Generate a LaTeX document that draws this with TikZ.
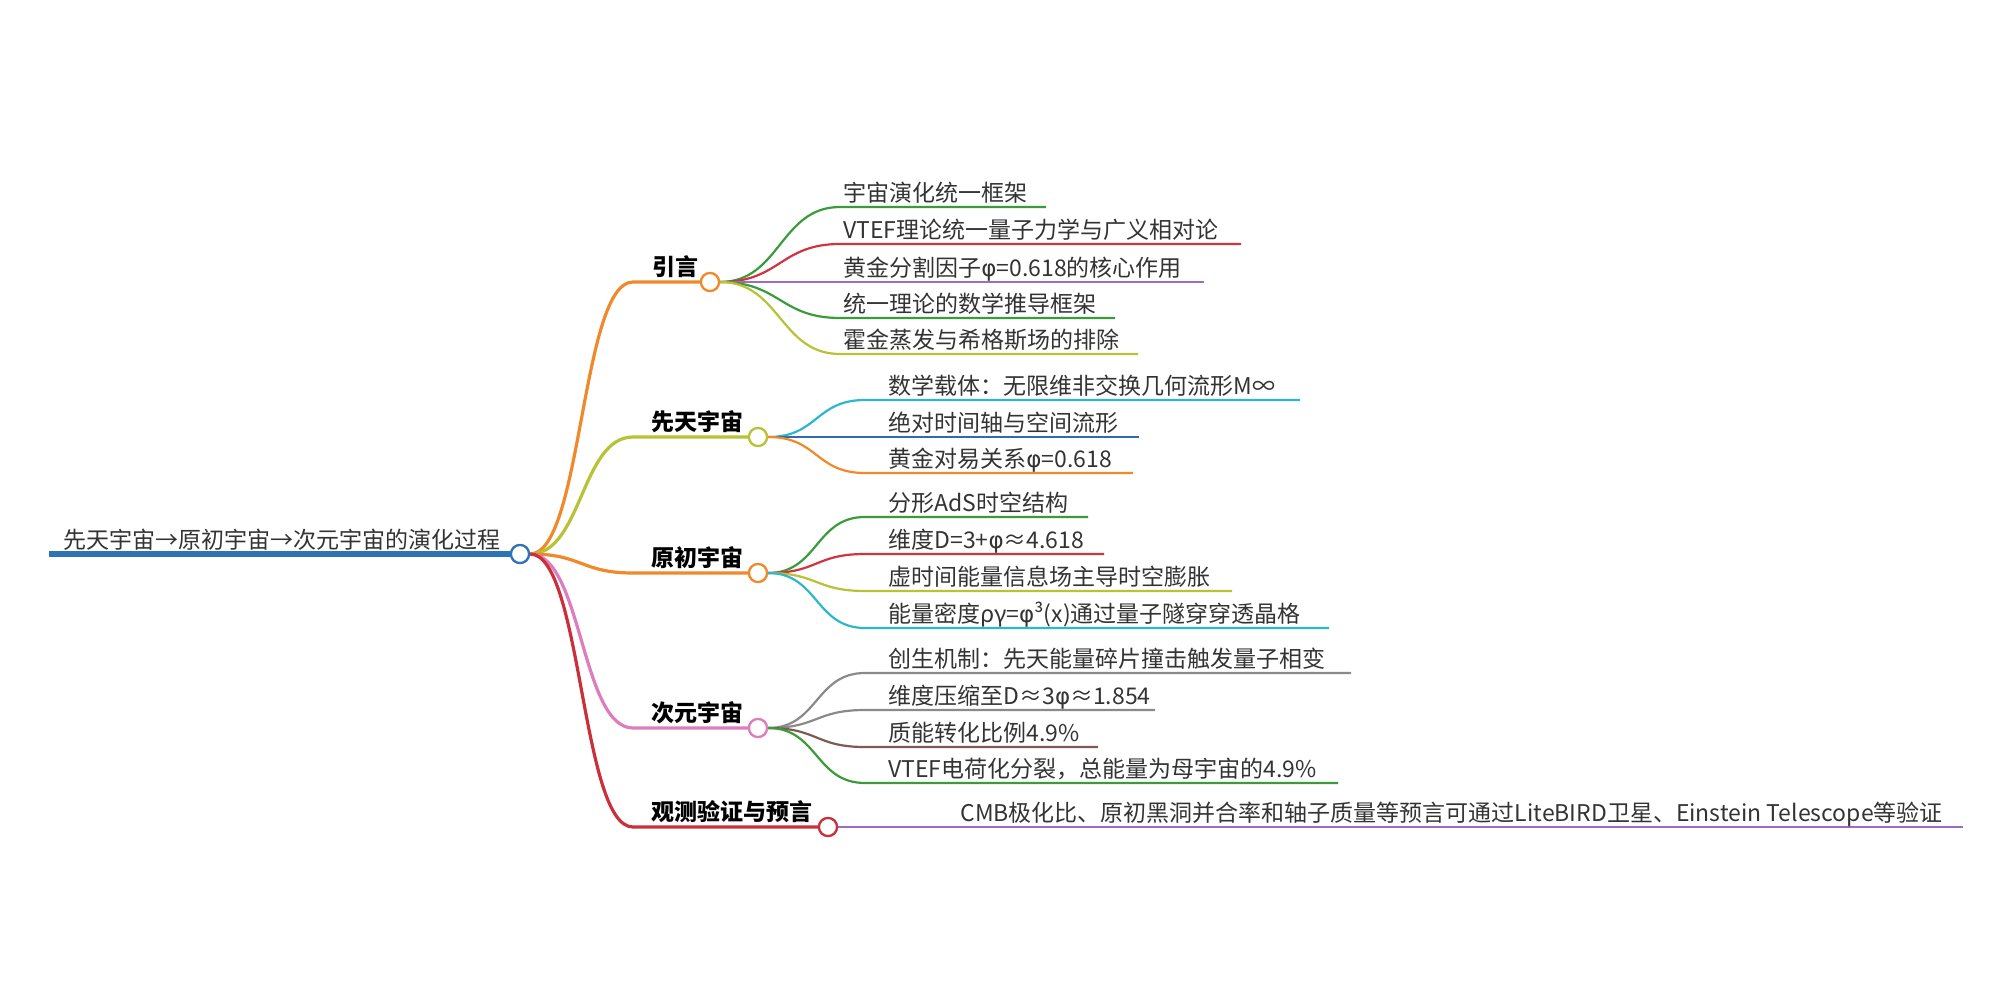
\documentclass[tikz,border=0pt]{standalone}
\usepackage{fontspec}
\setmainfont{Noto Sans CJK SC}
\newfontfamily\symfont{DejaVu Sans}
\newcommand\myphi{{\symfont φ}}
\definecolor{cblue}{HTML}{2E74B5}
\definecolor{corange}{HTML}{F0892A}
\definecolor{cyg}{HTML}{B7C234}
\definecolor{cpink}{HTML}{DE7DBE}
\definecolor{cred}{HTML}{C9303A}
\definecolor{cgreen}{HTML}{3A9B3A}
\definecolor{cleafred}{HTML}{D13440}
\definecolor{cpurple}{HTML}{9D6CC2}
\definecolor{ccyan}{HTML}{2DB7C9}
\definecolor{cdblue}{HTML}{2F6CAF}
\definecolor{cgray}{HTML}{8A8A8A}
\definecolor{cbrown}{HTML}{7D5B52}
\definecolor{ctext}{HTML}{333333}
\tikzset{
  hub/.style={circle, draw, fill=white, line width=1.1pt, minimum size=9pt, inner sep=0pt},
  branch/.style={line width=1.6pt},
  leafline/.style={line width=1.1pt},
  leaftext/.style={anchor=base west, inner sep=0pt, font=\fontsize{11.5pt}{12pt}\selectfont, text=ctext},
  btext/.style={anchor=base west, inner sep=0pt, font=\fontsize{11.5pt}{12pt}\selectfont\bfseries, text=black},
  roottext/.style={anchor=base west, inner sep=0pt, font=\fontsize{11.5pt}{12pt}\selectfont, text=ctext},
}
\begin{document}
\begin{tikzpicture}[x=0.5pt,y=-0.5pt]
\useasboundingbox (0,0) rectangle (2012,1006);
% root
\coordinate (r0) at (49,554);
\node[roottext] (rt) at (63,548) {先天宇宙→原初宇宙→次元宇宙的演化过程};
% branch coordinates
\coordinate (b1) at (633,282);
\coordinate (b2) at (633,437);
\coordinate (b3) at (633,573);
\coordinate (b4) at (633,728);
\coordinate (b5) at (633,827);
\node[hub, draw=cblue] (c0) at (520,554) {};
\node[hub, draw=corange] (c1) at (710,282) {};
\node[hub, draw=cyg] (c2) at (758,437) {};
\node[hub, draw=corange] (c3) at (758,573) {};
\node[hub, draw=cpink] (c4) at (758,728) {};
\node[hub, draw=cred] (c5) at (828,827) {};
% branch curves
\draw[line width=3pt, cblue] (r0) -- (c0.west);
\draw[branch, corange] (c0.east) .. controls +(52,0) and +(-52,0) .. (b1) -- (c1.west);
\draw[branch, cyg] (c0.east) .. controls +(52,0) and +(-52,0) .. (b2) -- (c2.west);
\draw[branch, corange] (c0.east) .. controls +(52,0) and +(-52,0) .. (b3) -- (c3.west);
\draw[branch, cpink] (c0.east) .. controls +(52,0) and +(-52,0) .. (b4) -- (c4.west);
\draw[branch, cred] (c0.east) .. controls +(52,0) and +(-52,0) .. (b5) -- (c5.west);
% branch labels
\node[btext] (l1) at (652,275) {引言};
\node[btext] (l2) at (651,430) {先天宇宙};
\node[btext] (l3) at (651,566) {原初宇宙};
\node[btext] (l4) at (651,721) {次元宇宙};
\node[btext] (l5) at (651,820) {观测验证与预言};
% leaves of 引言
\coordinate (a1) at (840,207); \coordinate (a1e) at (1046,207);
\coordinate (a2) at (840,244); \coordinate (a2e) at (1241,244);
\coordinate (a3) at (840,282); \coordinate (a3e) at (1204,282);
\coordinate (a4) at (840,318); \coordinate (a4e) at (1115,318);
\coordinate (a5) at (840,354); \coordinate (a5e) at (1138,354);
\draw[leafline, cgreen] (c1.east) .. controls +(60,0) and +(-60,0) .. (a1) -- (a1e);
\draw[leafline, cleafred] (c1.east) .. controls +(60,0) and +(-60,0) .. (a2) -- (a2e);
\draw[leafline, cpurple] (c1.east) -- (a3) -- (a3e);
\draw[leafline, cgreen] (c1.east) .. controls +(60,0) and +(-60,0) .. (a4) -- (a4e);
\draw[leafline, cyg] (c1.east) .. controls +(60,0) and +(-60,0) .. (a5) -- (a5e);
\node[leaftext] (t11) at (843,201) {宇宙演化统一框架};
\node[leaftext] (t12) at (843,238) {VTEF理论统一量子力学与广义相对论};
\node[leaftext] (t13) at (843,276) {黄金分割因子\myphi=0.618的核心作用};
\node[leaftext] (t14) at (843,312) {统一理论的数学推导框架};
\node[leaftext] (t15) at (843,348) {霍金蒸发与希格斯场的排除};
% leaves of 先天宇宙
\coordinate (s1) at (865,400); \coordinate (s1e) at (1300,400);
\coordinate (s2) at (865,437); \coordinate (s2e) at (1139,437);
\coordinate (s3) at (865,473); \coordinate (s3e) at (1133,473);
\draw[leafline, ccyan] (c2.east) .. controls +(50,0) and +(-50,0) .. (s1) -- (s1e);
\draw[leafline, cdblue] (c2.east) -- (s2) -- (s2e);
\draw[leafline, corange] (c2.east) .. controls +(50,0) and +(-50,0) .. (s3) -- (s3e);
\node[leaftext] (t21) at (888,394) {数学载体：无限维非交换几何流形M∞};
\node[leaftext] (t22) at (888,431) {绝对时间轴与空间流形};
\node[leaftext] (t23) at (888,467) {黄金对易关系\myphi=0.618};
% leaves of 原初宇宙
\coordinate (p1) at (865,517); \coordinate (p1e) at (1088,517);
\coordinate (p2) at (865,554); \coordinate (p2e) at (1104,554);
\coordinate (p3) at (865,591); \coordinate (p3e) at (1232,591);
\coordinate (p4) at (865,628); \coordinate (p4e) at (1329,628);
\draw[leafline, cgreen] (c3.east) .. controls +(50,0) and +(-50,0) .. (p1) -- (p1e);
\draw[leafline, cleafred] (c3.east) .. controls +(50,0) and +(-50,0) .. (p2) -- (p2e);
\draw[leafline, cyg] (c3.east) .. controls +(50,0) and +(-50,0) .. (p3) -- (p3e);
\draw[leafline, ccyan] (c3.east) .. controls +(50,0) and +(-50,0) .. (p4) -- (p4e);
\node[leaftext] (t31) at (888,511) {分形AdS时空结构};
\node[leaftext] (t32) at (888,548) {维度D=3+\myphi≈4.618};
\node[leaftext] (t33) at (888,585) {虚时间能量信息场主导时空膨胀};
\node[leaftext] (t34) at (888,622) {能量密度ργ=\myphi³(x)通过量子隧穿穿透晶格};
% leaves of 次元宇宙
\coordinate (d1) at (865,673); \coordinate (d1e) at (1351,673);
\coordinate (d2) at (865,710); \coordinate (d2e) at (1155,710);
\coordinate (d3) at (865,747); \coordinate (d3e) at (1098,747);
\coordinate (d4) at (865,783); \coordinate (d4e) at (1338,783);
\draw[leafline, cgray] (c4.east) .. controls +(50,0) and +(-50,0) .. (d1) -- (d1e);
\draw[leafline, cgray] (c4.east) .. controls +(50,0) and +(-50,0) .. (d2) -- (d2e);
\draw[leafline, cbrown] (c4.east) .. controls +(50,0) and +(-50,0) .. (d3) -- (d3e);
\draw[leafline, cgreen] (c4.east) .. controls +(50,0) and +(-50,0) .. (d4) -- (d4e);
\node[leaftext] (t41) at (888,667) {创生机制：先天能量碎片撞击触发量子相变};
\node[leaftext] (t42) at (888,704) {维度压缩至D≈3\myphi≈1.854};
\node[leaftext] (t43) at (888,741) {质能转化比例4.9\%};
\node[leaftext] (t44) at (888,777) {VTEF电荷化分裂，总能量为母宇宙的4.9\%};
% leaf of 观测验证与预言
\coordinate (o1e) at (1963,827);
\draw[leafline, cpurple] (c5.east) -- (o1e);
\node[leaftext] (t51) at (960,821) {CMB极化比、原初黑洞并合率和轴子质量等预言可通过LiteBIRD卫星、Einstein Telescope等验证};
% hubs drawn on top of the connectors
\node[hub, draw=cblue] at (c0) {};
\node[hub, draw=corange] at (c1) {};
\node[hub, draw=cyg] at (c2) {};
\node[hub, draw=corange] at (c3) {};
\node[hub, draw=cpink] at (c4) {};
\node[hub, draw=cred] at (c5) {};
\end{tikzpicture}
\end{document}
